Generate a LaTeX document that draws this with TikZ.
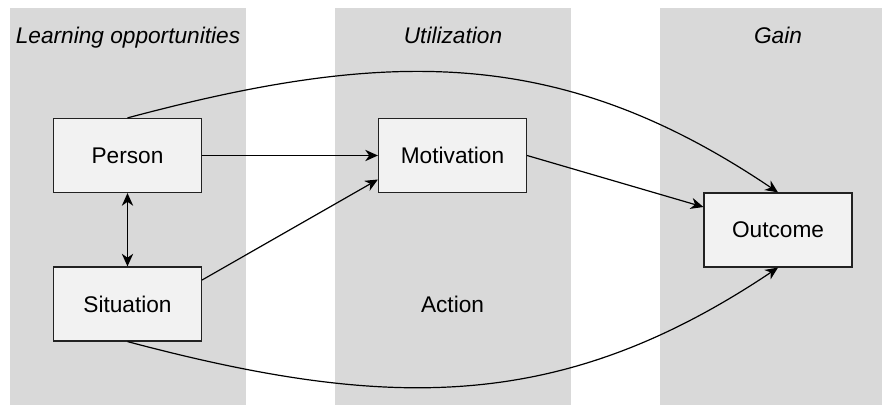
\documentclass[tikz,border=0pt]{standalone}
\usepackage{fontspec}
\setmainfont{Liberation Sans}
\usetikzlibrary{arrows.meta}
\definecolor{bandgray}{HTML}{D9D9D9}
\definecolor{boxfill}{HTML}{F2F2F2}
\definecolor{boxline}{HTML}{222222}
\begin{document}
\begin{tikzpicture}[x=0.75pt,y=-0.75pt,
  band/.style={fill=bandgray, draw=none},
  box/.style={draw=boxline, fill=boxfill, line width=0.9pt, minimum width=111pt, minimum height=55.5pt, inner sep=0pt, font=\fontsize{17}{20}\selectfont},
  paneltitle/.style={font=\fontsize{17}{20}\selectfont\itshape, anchor=base, inner sep=0pt},
  plainlabel/.style={font=\fontsize{17}{20}\selectfont, inner sep=0pt},
  conn/.style={line width=0.9pt, -{Stealth[length=9.5pt,width=8.5pt,inset=3pt]}},
  dconn/.style={line width=0.9pt, {Stealth[length=9.5pt,width=8.5pt,inset=3pt]}-{Stealth[length=9.5pt,width=8.5pt,inset=3pt]}},
]
\useasboundingbox (0,0) rectangle (882,406);
\fill[white] (0,0) rectangle (882,406);
% bands
\fill[band] (10,8) rectangle (246,405);
\fill[band] (335,8) rectangle (571,405);
\fill[band] (660,8) rectangle (882,405);
% titles
\node[paneltitle] (t1) at (128,44) {Learning opportunities};
\node[paneltitle] (t2) at (453,44) {Utilization};
\node[paneltitle] (t3) at (778,44) {Gain};
% boxes
\node[box] (person) at (127.5,155.5) {Person};
\node[box] (situation) at (127.5,304) {Situation};
\node[box] (motivation) at (452.5,155.5) {Motivation};
\node[box] (outcome) at (778,230) {Outcome};
\node[plainlabel] (action) at (452.5,304) {Action};
% connectors
\draw[conn] (person.east) -- (motivation.west);
\draw[conn] ([yshift=18pt]situation.east) -- ([yshift=-18pt]motivation.west);
\draw[conn] (motivation.east) -- ([yshift=17.25pt]outcome.west);
\draw[dconn] (person.south) -- (situation.north);
\draw[conn] (person.north) .. controls (389,48) and (561,46) .. (outcome.north);
\draw[conn] (situation.south) .. controls (389,411) and (561,413) .. (outcome.south);
\end{tikzpicture}
\end{document}
